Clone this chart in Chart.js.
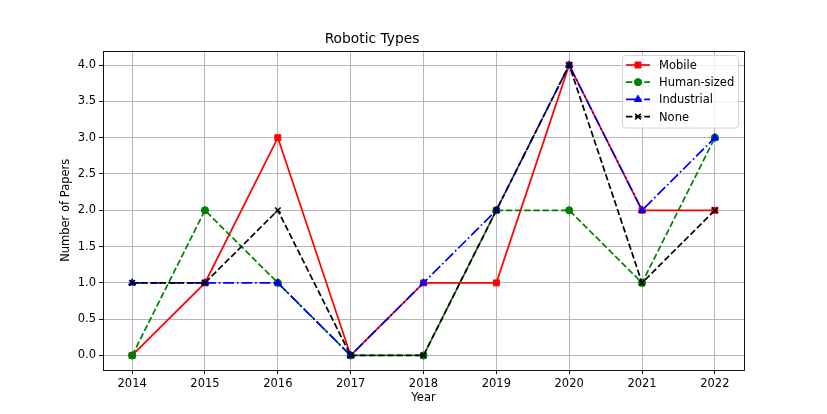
<!DOCTYPE html>
<html>
<head>
<meta charset="utf-8">
<script src="https://cdn.jsdelivr.net/npm/chart.js@4.4.0/dist/chart.umd.min.js"></script>
<style>
  html, body { margin: 0; padding: 0; background: #fff; }
  #wrap { width: 827px; height: 414px; }
</style>
</head>
<body>
<div id="wrap"><canvas id="chart" width="827" height="414"></canvas></div>
<script>
// data
const years = [2014, 2015, 2016, 2017, 2018, 2019, 2020, 2021, 2022];
const mobile = [0, 1, 3, 0, 1, 1, 4, 2, 2];
const humanSized = [0, 2, 1, 0, 0, 2, 2, 1, 3];
const industrial = [1, 1, 1, 0, 1, 2, 4, 2, 3];
const none = [1, 1, 2, 0, 0, 2, 4, 1, 2];
const yTicks = [0, 0.5, 1, 1.5, 2, 2.5, 3, 3.5, 4];

const FONT = "'DejaVu Sans', sans-serif";
const lw = 1.72;

function pts(values) {
  return values.map((v, i) => ({ x: years[i], y: v }));
}

const series = [
  { label: 'Mobile', data: mobile, color: '#ff0000', dash: [], marker: 'rect', order: 4 },
  { label: 'Human-sized', data: humanSized, color: '#008000', dash: [6.4, 2.75], marker: 'circle', order: 3 },
  { label: 'Industrial', data: industrial, color: '#0000ff', dash: [11, 2.75, 1.7, 2.75], marker: 'triangle', order: 2 },
  { label: 'None', data: none, color: '#000000', dash: [6.4, 2.75], marker: 'crossRot', order: 1 },
];

const datasets = series.map(s => ({
  label: s.label,
  data: pts(s.data),
  borderColor: s.color,
  backgroundColor: s.color,
  borderWidth: lw,
  borderDash: s.dash,
  pointStyle: s.marker,
  pointRadius: s.marker === 'rect' ? 4.2 : (s.marker === 'triangle' ? 4.2 : (s.marker === 'crossRot' ? 4 : 3.6)),
  pointBorderWidth: s.marker === 'crossRot' ? 1.6 : 1,
  pointBorderColor: s.color,
  pointBackgroundColor: s.color,
  tension: 0,
  order: s.order,
}));

// frame round the plot area and legend inside it
const framePlugin = {
  id: 'frame',
  afterDraw(chart) {
    const ctx = chart.ctx;
    const a = chart.chartArea;
    ctx.save();
    ctx.strokeStyle = '#000';
    ctx.lineWidth = 0.92;
    ctx.setLineDash([]);
    ctx.strokeRect(Math.round(a.left) + 0.5, Math.round(a.top) + 0.5,
      Math.round(a.right - a.left), Math.round(a.bottom - a.top));

    // legend
    const bx = 622.5, by = 55.5, bw = 116, bh = 72.5, r = 3;
    ctx.beginPath();
    ctx.moveTo(bx + r, by);
    ctx.arcTo(bx + bw, by, bx + bw, by + bh, r);
    ctx.arcTo(bx + bw, by + bh, bx, by + bh, r);
    ctx.arcTo(bx, by + bh, bx, by, r);
    ctx.arcTo(bx, by, bx + bw, by, r);
    ctx.closePath();
    ctx.fillStyle = 'rgba(255,255,255,0.8)';
    ctx.fill();
    ctx.strokeStyle = '#d6d6d6';
    ctx.lineWidth = 1;
    ctx.stroke();

    ctx.font = "11.5px " + FONT;
    ctx.textBaseline = 'middle';
    series.forEach((s, i) => {
      const y = 65 + i * 17.2;
      ctx.strokeStyle = s.color;
      ctx.lineWidth = lw;
      ctx.setLineDash(s.dash);
      ctx.beginPath();
      ctx.moveTo(626, y);
      ctx.lineTo(650, y);
      ctx.stroke();
      ctx.setLineDash([]);
      const ds = chart.data.datasets[i];
      // drawPoint fills / strokes with whatever is set on the context
      ctx.fillStyle = s.color;
      ctx.strokeStyle = s.color;
      ctx.lineWidth = ds.pointBorderWidth;
      Chart.helpers.drawPoint(ctx, {
        pointStyle: s.marker,
        radius: ds.pointRadius,
        borderWidth: ds.pointBorderWidth,
        rotation: 0,
      }, 638, y);
      ctx.fillStyle = '#000';
      ctx.fillText(s.label, 659, y + 1);
    });
    ctx.restore();
  }
};

const ctx = document.getElementById('chart').getContext('2d');
const chart = new Chart(ctx, {
  type: 'line',
  data: { datasets },
  options: {
    responsive: false,
    animation: false,
    layout: { padding: { left: 0, right: 83, top: 0, bottom: 5 } },
    plugins: {
      legend: { display: false },
      tooltip: { enabled: false },
      title: {
        display: true,
        text: 'Robotic Types',
        color: '#000',
        font: { family: FONT, size: 13.8, weight: 'normal' },
        padding: { top: 31, bottom: 3 },
      },
    },
    scales: {
      x: {
        type: 'linear',
        min: 2013.6,
        max: 2022.4,
        afterBuildTicks: scale => { scale.ticks = years.map(v => ({ value: v })); },
        afterFit: scale => { scale.height = 39; },
        ticks: {
          color: '#000',
          font: { family: FONT, size: 11.5 },
          padding: 3,
          maxRotation: 0,
          autoSkip: false,
          callback: v => String(v),
        },
        grid: { color: '#b0b0b0', lineWidth: 0.92, tickLength: 4, tickColor: '#000', drawTicks: true },
        border: { display: false },
        title: {
          display: true,
          text: 'Year',
          color: '#000',
          font: { family: FONT, size: 11.5 },
          padding: { top: 0, bottom: 4 },
        },
      },
      y: {
        type: 'linear',
        min: -0.2,
        max: 4.2,
        afterBuildTicks: scale => { scale.ticks = yTicks.map(v => ({ value: v })); },
        afterFit: scale => { scale.width = 103; },
        ticks: {
          color: '#000',
          font: { family: FONT, size: 11.5 },
          padding: 3,
          autoSkip: false,
          callback: v => Number(v).toFixed(1),
        },
        grid: { color: '#b0b0b0', lineWidth: 0.92, tickLength: 4, tickColor: '#000', drawTicks: true },
        border: { display: false },
        title: {
          display: true,
          text: 'Number of Papers',
          color: '#000',
          font: { family: FONT, size: 11.5 },
          padding: { top: 59, bottom: 0 },
        },
      },
    },
  },
  plugins: [framePlugin],
});
</script>
</body>
</html>
